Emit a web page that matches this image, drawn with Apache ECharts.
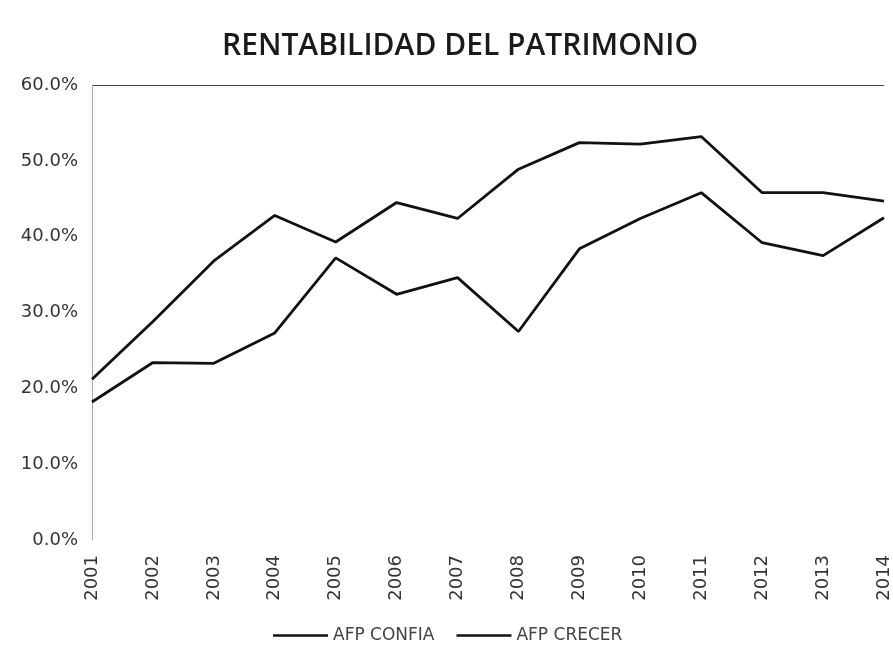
<!DOCTYPE html>
<html>
<head>
<meta charset="utf-8">
<script src="https://cdn.jsdelivr.net/npm/echarts@6/dist/echarts.min.js"></script>
<style>
  html, body { margin: 0; padding: 0; background: #fff; }
  #chart { width: 893px; height: 656px; }
</style>
</head>
<body>
<div id="chart"></div>
<script>
  var years = ['2001', '2002', '2003', '2004', '2005', '2006', '2007',
    '2008', '2009', '2010', '2011', '2012', '2013', '2014'];
  // % values
  var afpConfia = [21.2, 28.8, 36.8, 42.8, 39.3, 44.5, 42.4, 48.9, 52.4, 52.2, 53.2, 45.8, 45.8, 44.7];
  var afpCrecer = [18.2, 23.4, 23.3, 27.3, 37.2, 32.4, 34.6, 27.5, 38.4, 42.4, 45.8, 39.2, 37.5, 42.5];
  var yTicks = [0, 10, 20, 30, 40, 50, 60];

  var myChart = echarts.init(document.getElementById('chart'));

  // only the top split line (60%) shows in the scan
  var splitColors = yTicks.map(function (t, i) {
    return i === yTicks.length - 1 ? '#444' : 'rgba(0,0,0,0)';
  });

  var option = {
    backgroundColor: '#fff',
    animation: false,
    title: {
      text: 'RENTABILIDAD DEL PATRIMONIO',
      left: 217,
      top: 26,
      textStyle: {
        fontFamily: 'Open Sans',
        fontWeight: 600,
        fontSize: 30,
        color: '#1a1a1a'
      }
    },
    legend: {
      data: ['AFP CONFIA', 'AFP CRECER'],
      top: 622,
      left: 268,
      icon: 'rect',
      itemWidth: 55,
      itemHeight: 2.5,
      itemGap: 22,
      textStyle: {
        fontFamily: 'DejaVu Sans',
        fontSize: 17,
        color: '#444'
      }
    },
    grid: {
      left: 92,
      right: 6,
      top: 85,
      bottom: 116
    },
    xAxis: {
      type: 'category',
      boundaryGap: false,
      data: years,
      axisLine: { show: false },
      axisTick: { show: false },
      axisLabel: {
        rotate: 90,
        interval: 0,
        margin: 15,
        fontFamily: 'DejaVu Sans',
        fontSize: 18,
        color: '#333'
      }
    },
    yAxis: {
      type: 'value',
      min: 0,
      max: 60,
      interval: 10,
      axisLine: {
        show: true,
        lineStyle: { color: '#999', type: 'dotted', width: 1 }
      },
      axisTick: { show: false },
      axisLabel: {
        margin: 14,
        fontFamily: 'DejaVu Sans',
        fontSize: 18,
        color: '#333',
        formatter: function (v) { return v.toFixed(1) + '%'; }
      },
      splitLine: {
        show: true,
        lineStyle: { color: splitColors, width: 1 }
      }
    },
    series: [
      {
        name: 'AFP CONFIA',
        type: 'line',
        data: afpConfia,
        showSymbol: false,
        lineStyle: { color: '#111', width: 2.8 },
        itemStyle: { color: '#111' }
      },
      {
        name: 'AFP CRECER',
        type: 'line',
        data: afpCrecer,
        showSymbol: false,
        lineStyle: { color: '#111', width: 2.8 },
        itemStyle: { color: '#111' }
      }
    ]
  };

  myChart.setOption(option);
</script>
</body>
</html>
